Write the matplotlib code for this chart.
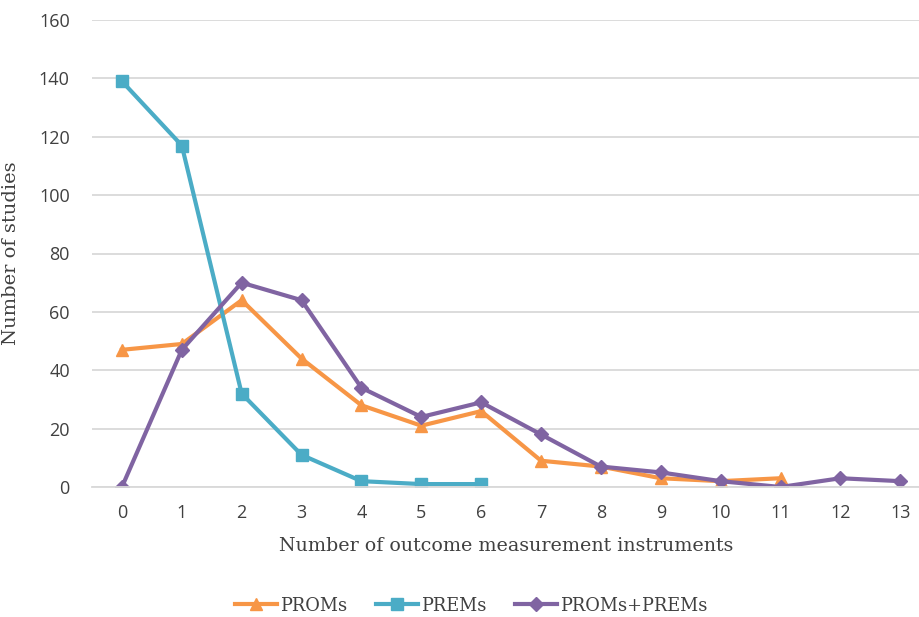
import matplotlib
matplotlib.use("Agg")
import matplotlib.pyplot as plt

n_instruments = list(range(14))

proms = [47, 49, 64, 44, 28, 21, 26, 9, 7, 3, 2, 3]
prems = [139, 117, 32, 11, 2, 1, 1]
proms_prems = [0, 47, 70, 64, 34, 24, 29, 18, 7, 5, 2, 0, 3, 2]

y_ticks = [0, 20, 40, 60, 80, 100, 120, 140, 160]

tick_font = "Open Sans"
label_font = "DejaVu Serif"
text_col = "#404040"

fig = plt.figure(figsize=(9.2, 6.17), dpi=100)
ax = fig.add_axes([92/920, 130/617, 828/920, 467/617])

ax.plot(n_instruments[:len(proms)], proms, color="#F79646", lw=3,
        marker="^", ms=9, label="PROMs")
ax.plot(n_instruments[:len(prems)], prems, color="#4BACC6", lw=3,
        marker="s", ms=8, label="PREMs")
ax.plot(n_instruments, proms_prems, color="#8064A2", lw=3,
        marker="D", ms=7.5, label="PROMs+PREMs")

ax.set_xlim(-0.5, 13.33)
ax.set_ylim(0, 160)
ax.set_xticks(n_instruments)
ax.set_yticks(y_ticks)
ax.tick_params(length=0, labelsize=13, labelcolor=text_col)
for lbl in ax.get_xticklabels() + ax.get_yticklabels():
    lbl.set_family(tick_font)
ax.tick_params(axis="x", pad=12)
ax.tick_params(axis="y", pad=16)
ax.grid(axis="y", color="#D9D9D9", lw=1.3)
ax.set_axisbelow(True)
for s in ["top", "right", "left"]:
    ax.spines[s].set_visible(False)
ax.spines["bottom"].set_color("#D9D9D9")
ax.spines["bottom"].set_linewidth(1.3)

ax.set_xlabel("Number of outcome measurement instruments", family=label_font,
              fontsize=13.7, color=text_col, labelpad=11)
ax.set_ylabel("Number of studies", family=label_font, fontsize=14,
              color=text_col)
ax.yaxis.set_label_coords(-0.087, 0.5)

leg = fig.legend(loc="lower center", bbox_to_anchor=(0.512, -0.022), ncol=3,
                 frameon=False, prop={"family": label_font, "size": 12.8},
                 handlelength=2.4, columnspacing=1.6, handletextpad=0.15)
for t in leg.get_texts():
    t.set_color(text_col)

fig.savefig("out.png", dpi=100)
